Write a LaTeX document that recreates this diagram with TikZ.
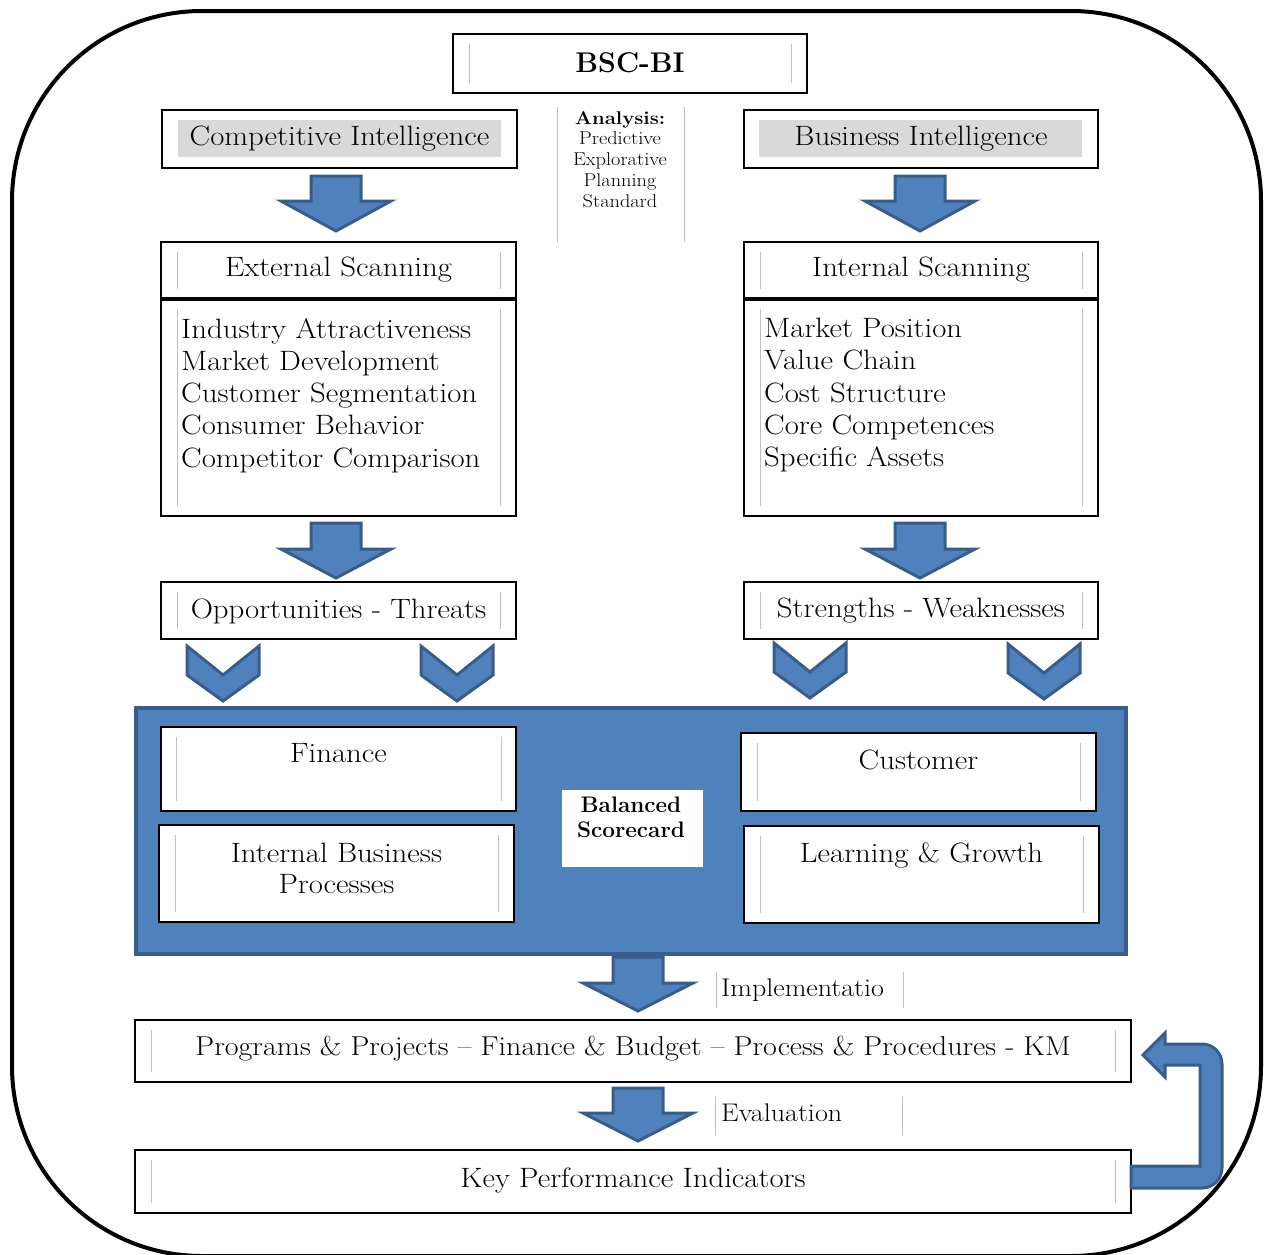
\documentclass[tikz,border=0pt]{standalone}
\usepackage{fontspec}
\setmainfont{Latin Modern Roman}[FakeStretch=1.1]
\newfontfamily\lmplain{Latin Modern Roman}
\usetikzlibrary{calc}
\definecolor{blueF}{HTML}{4F81BD}
\definecolor{blueD}{HTML}{385D8A}
\definecolor{shadeg}{HTML}{D9D9D9}
\definecolor{glinec}{HTML}{BFBFBF}
\newcommand\blkarrow[4]{% x, ytop, yhead, ytip
  \filldraw[barrowst] (#1-25,#2) -- (#1+25,#2) -- (#1+25,#3) -- (#1+55,#3) -- (#1,#4) -- (#1-55,#3) -- (#1-25,#3) -- cycle;}
\newcommand\chevr[2]{% cx, top
  \filldraw[barrowst] (#1-36,#2) -- (#1,#2+29) -- (#1+36,#2) -- (#1+36,#2+29) -- (#1,#2+55) -- (#1-36,#2+29) -- cycle;}
\newcommand\innerlines[3]{% node, dx, dy
  \draw[glst] ($(#1.north west)+(#2,#3)$) -- ($(#1.south west)+(#2,-#3)$);
  \draw[glst] ($(#1.north east)+(-#2,#3)$) -- ($(#1.south east)+(-#2,-#3)$);}
\tikzset{
  box/.style={draw=black,line width=1.8pt,fill=white,inner sep=0pt,outer sep=0pt},
  glst/.style={draw=glinec,line width=1pt},
  barrowst/.style={fill=blueF,draw=blueD,line width=3pt,line join=miter},
  txt/.style={font=\fontsize{28}{32}\selectfont,inner sep=0pt,yshift=-2pt},
  listtxt/.style={font=\fontsize{28}{32.3}\selectfont,align=left,inner sep=0pt,yshift=-2pt},
  small/.style={font=\fontsize{18.5}{20.8}\selectfont,align=center,inner sep=0pt,yshift=-2pt},
  lbl/.style={font=\fontsize{25.5}{28}\selectfont,inner sep=0pt}
}
\begin{document}
\begin{tikzpicture}[x=1pt,y=-1pt]
\useasboundingbox (0,0) rectangle (1267,1254);
% outer frame
\draw[line width=4pt,rounded corners=190pt] (12,11) rectangle (1261,1256);

% title
\node[box,minimum width=354pt,minimum height=59pt] (bsc) at (630,63.5) {};
\node[font=\lmplain\fontsize{28.5}{34}\selectfont\bfseries,inner sep=0pt] (bsct) at (630,63) {BSC-BI};
\innerlines{bsc}{16}{10}

% analysis column
\draw[glst] (557,107) coordinate (anl1) -- (557,242) coordinate (anl2);
\draw[glst] (684,107) coordinate (anr1) -- (684,242) coordinate (anr2);
\node[small,anchor=north] (anal) at (620,109) {\textbf{Analysis:}\\Predictive\\Explorative\\Planning\\Standard};

% intelligence boxes
\node[box,minimum width=355pt,minimum height=58pt] (ci) at (339.5,139) {};
\fill[shadeg] (178,120) rectangle (501,157);
\node[txt] (cit) at (339.5,137) {Competitive Intelligence};
\node[box,minimum width=354pt,minimum height=58pt] (bi) at (921,139) {};
\fill[shadeg] (759,120) rectangle (1082,157);
\node[txt] (bit) at (921,137) {Business Intelligence};

% arrows 1
\blkarrow{336}{176}{201}{231}
\blkarrow{920}{176}{201}{231}

% scanning boxes
\node[box,minimum width=355pt,minimum height=217pt] (esl) at (338.5,407.5) {};
\node[box,minimum width=355pt,minimum height=57pt] (es) at (338.5,270.5) {};
\draw[line width=3.2pt] (es.south west) -- (es.south east);
\node[txt] (est) at (338.5,268) {External Scanning};
\innerlines{es}{16}{10}
\innerlines{esl}{16}{10}
\node[listtxt,anchor=north west] (eslt) at (181,316) {Industry Attractiveness\\Market Development\\Customer Segmentation\\Consumer Behavior\\Competitor Comparison};

\node[box,minimum width=354pt,minimum height=217pt] (isl) at (921,407.5) {};
\node[box,minimum width=354pt,minimum height=57pt] (is) at (921,270.5) {};
\draw[line width=3.2pt] (is.south west) -- (is.south east);
\node[txt] (ist) at (921,268) {Internal Scanning};
\innerlines{is}{16}{10}
\innerlines{isl}{16}{10}
\node[listtxt,anchor=north west] (islt) at (764,316) {Market Position\\Value Chain\\Cost Structure\\Core Competences\\Specific Assets};

% arrows 2
\blkarrow{336}{523}{549}{578}
\blkarrow{920}{523}{549}{578}

% SWOT boxes
\node[box,minimum width=355pt,minimum height=57pt] (ot) at (338.5,610.5) {};
\node[txt] (ott) at (338.5,609) {Opportunities - Threats};
\innerlines{ot}{16}{10}
\node[box,minimum width=354pt,minimum height=57pt] (sw) at (921,610.5) {};
\node[txt] (swt) at (921,609) {Strengths - Weaknesses};
\innerlines{sw}{16}{10}

% chevrons
\chevr{223}{646}
\chevr{457}{646}
\chevr{810}{643}
\chevr{1044}{644}

% balanced scorecard panel
\node[fill=blueF,draw=blueD,line width=4pt,minimum width=990pt,minimum height=246pt,inner sep=0pt] (bscard) at (631,831) {};
\node[box,minimum width=355pt,minimum height=84pt] (fin) at (338.5,769) {};
\node[txt,anchor=north] (fint) at (338.5,741) {Finance};
\innerlines{fin}{15}{10}
\node[box,minimum width=355pt,minimum height=97pt] (ibp) at (336.5,873.5) {};
\node[txt,anchor=north,align=center,font=\fontsize{28}{31}\selectfont] (ibpt) at (336.5,841) {Internal Business\\Processes};
\innerlines{ibp}{16}{10}
\node[box,minimum width=355pt,minimum height=78pt] (cus) at (918.5,772) {};
\node[txt,anchor=north] (cust) at (918.5,748) {Customer};
\innerlines{cus}{16}{10}
\node[box,minimum width=355pt,minimum height=97pt] (lg) at (921.5,874.5) {};
\node[txt,anchor=north] (lgt) at (921.5,840) {Learning \& Growth};
\innerlines{lg}{16}{10}
\node[fill=white,minimum width=141pt,minimum height=77pt,inner sep=0pt] (bs) at (632.5,828.5) {};
\node[font=\lmplain\fontsize{22.5}{25}\selectfont\bfseries,align=center,inner sep=0pt,anchor=north] (bst) at (631,797) {Balanced\\Scorecard};

% implementation
\blkarrow{638}{957}{983}{1011}
\draw[glst] (716,972) -- (716,1008);
\draw[glst] (903,972) -- (903,1008);
\node[lbl,anchor=west] (impl) at (721,990) {Implementatio};

\node[box,minimum width=996pt,minimum height=62pt] (prog) at (633,1051) {};
\node[txt,font=\fontsize{27.3}{30}\selectfont] (progt) at (633,1047) {Programs \& Projects -- Finance \& Budget -- Process \& Procedures - KM};
\innerlines{prog}{16}{10}

% evaluation
\blkarrow{638}{1088}{1113}{1141}
\draw[glst] (715,1097) -- (715,1135);
\draw[glst] (902,1097) -- (902,1135);
\node[lbl,anchor=west] (eval) at (721,1113) {Evaluation};

\node[box,minimum width=996pt,minimum height=63pt] (kpi) at (633,1181.5) {};
\node[txt] (kpit) at (633,1178) {Key Performance Indicators};
\innerlines{kpi}{16}{10}

% feedback arrow
\filldraw[barrowst] (kpi.east |- 0,1166) -- (1200,1166) -- (1200,1065) -- (1165,1065) -- (1165,1077) -- (1143,1055) -- (1165,1033) -- (1165,1044)
  [rounded corners=20pt] -- (1222,1044) -- (1222,1188) [sharp corners] -- (kpi.east |- 0,1188) -- cycle;
\end{tikzpicture}
\end{document}
